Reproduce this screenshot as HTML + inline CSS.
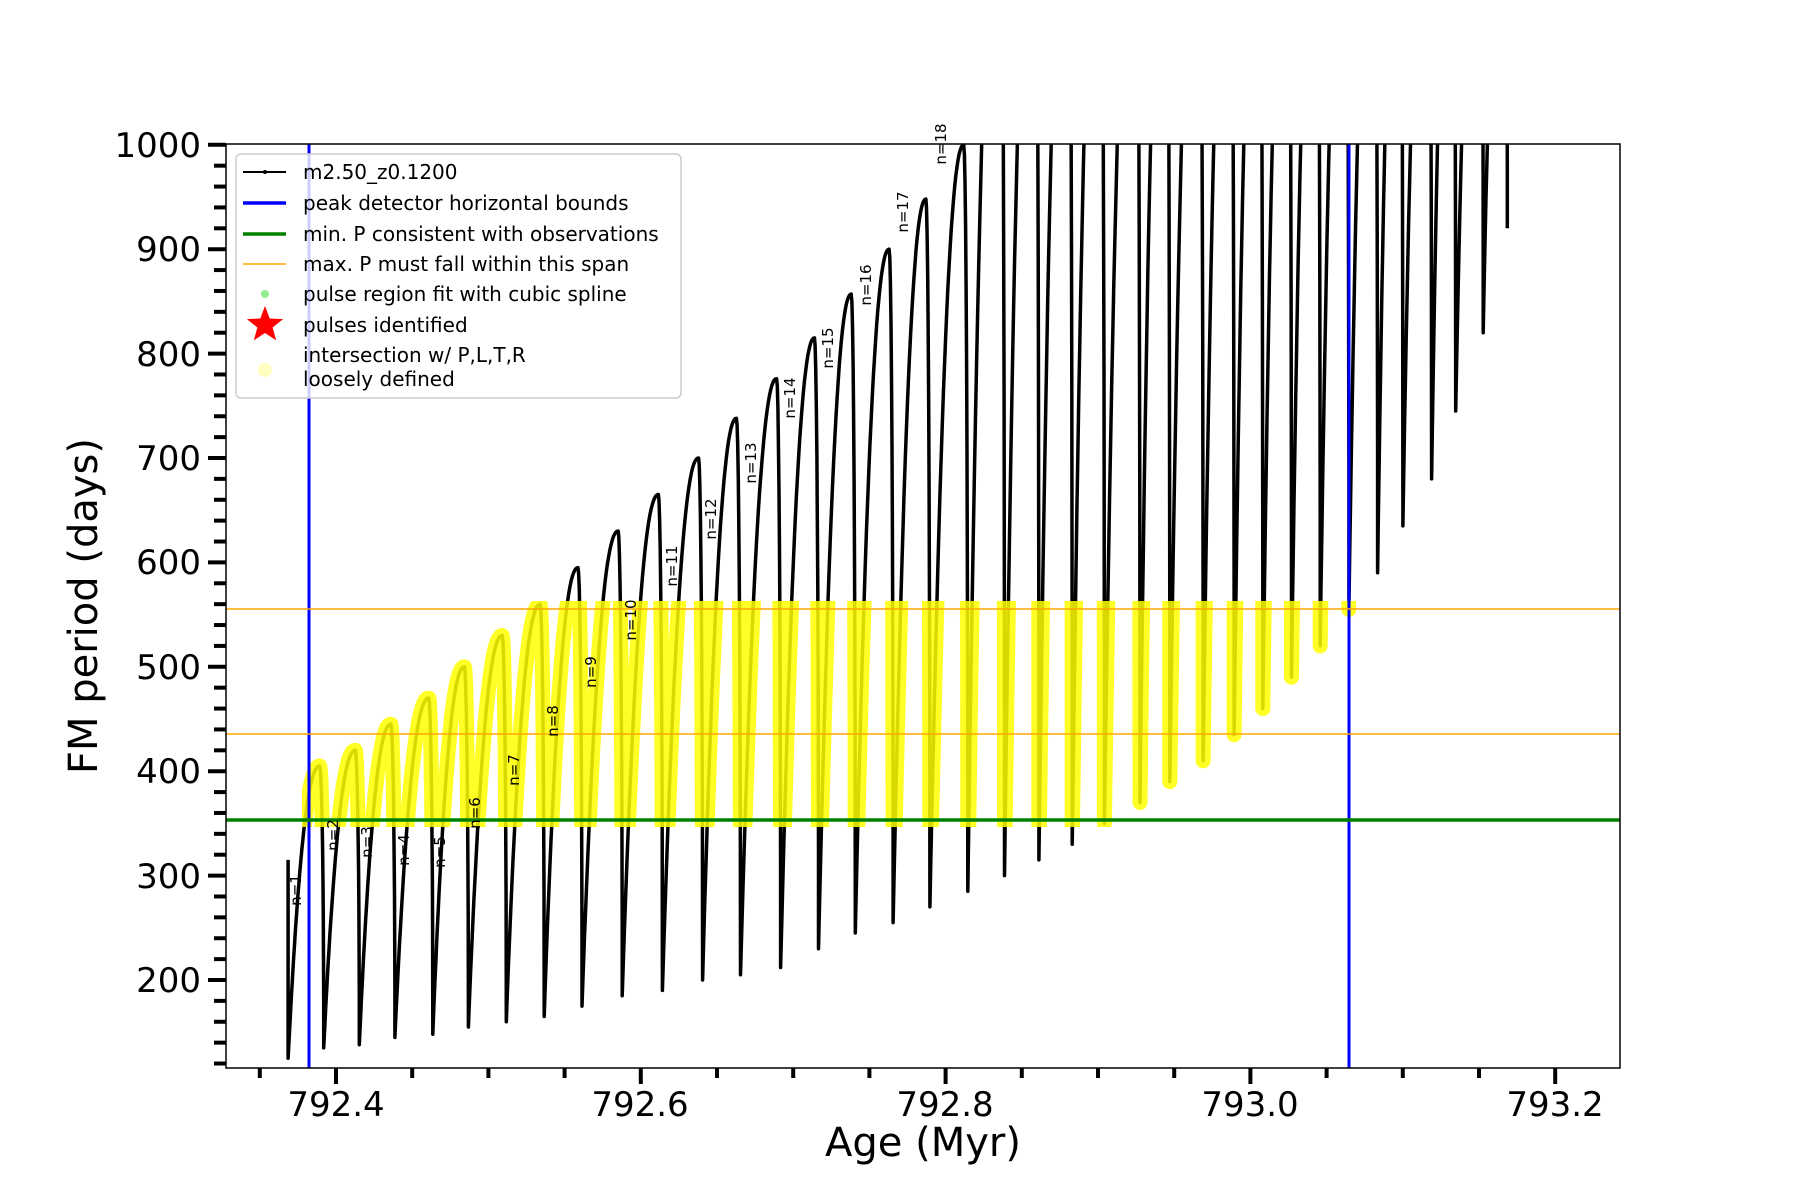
<!DOCTYPE html>
<html><head><meta charset="utf-8"><style>
html,body{margin:0;padding:0;background:#fff;}
svg{display:block;}
text{font-family:"DejaVu Sans","Liberation Sans",sans-serif;fill:#000;}
</style></head><body>
<svg id="s" width="1800" height="1200" viewBox="0 0 1800 1200" xmlns="http://www.w3.org/2000/svg">
<defs>
<clipPath id="ax"><rect x="226" y="144" width="1394" height="924"/></clipPath>
<clipPath id="band"><rect x="302" y="601" width="1054" height="226"/></clipPath>
</defs>
<rect x="0" y="0" width="1800" height="1200" fill="#fff"/>
<g clip-path="url(#ax)">
<path id="black" d="" fill="none" stroke="#000" stroke-width="3.5" stroke-linejoin="round"/>
<path id="yellow" d="" fill="none" stroke="#ffff00" stroke-opacity="0.85" stroke-width="15" stroke-linecap="round" stroke-linejoin="round" clip-path="url(#band)"/>
<line x1="309" y1="144" x2="309" y2="1068" stroke="#0000ff" stroke-width="3"/>
<line x1="1349" y1="144" x2="1349" y2="1068" stroke="#0000ff" stroke-width="3"/>
<line x1="226" y1="820" x2="1620" y2="820" stroke="#008000" stroke-width="3.5"/>
<line x1="226" y1="609" x2="1620" y2="609" stroke="#ffa500" stroke-width="1.5"/>
<line x1="226" y1="734" x2="1620" y2="734" stroke="#ffa500" stroke-width="1.5"/>
</g>
<g font-size="15">
<text transform="translate(301,890) rotate(-90)" text-anchor="middle">n=1</text>
<text transform="translate(338,835) rotate(-90)" text-anchor="middle">n=2</text>
<text transform="translate(372,842) rotate(-90)" text-anchor="middle">n=3</text>
<text transform="translate(409,850) rotate(-90)" text-anchor="middle">n=4</text>
<text transform="translate(445,852) rotate(-90)" text-anchor="middle">n=5</text>
<text transform="translate(480,813) rotate(-90)" text-anchor="middle">n=6</text>
<text transform="translate(519,770) rotate(-90)" text-anchor="middle">n=7</text>
<text transform="translate(558,721) rotate(-90)" text-anchor="middle">n=8</text>
<text transform="translate(596,672) rotate(-90)" text-anchor="middle">n=9</text>
<text transform="translate(636,620) rotate(-90)" text-anchor="middle">n=10</text>
<text transform="translate(677,566) rotate(-90)" text-anchor="middle">n=11</text>
<text transform="translate(716,519) rotate(-90)" text-anchor="middle">n=12</text>
<text transform="translate(756,463) rotate(-90)" text-anchor="middle">n=13</text>
<text transform="translate(795,398) rotate(-90)" text-anchor="middle">n=14</text>
<text transform="translate(833,348) rotate(-90)" text-anchor="middle">n=15</text>
<text transform="translate(871,285) rotate(-90)" text-anchor="middle">n=16</text>
<text transform="translate(908,212) rotate(-90)" text-anchor="middle">n=17</text>
<text transform="translate(946,144) rotate(-90)" text-anchor="middle">n=18</text>
</g>
<rect x="226" y="144" width="1394" height="924" fill="none" stroke="#000" stroke-width="1.5"/>
<g id="ticks" stroke="#000" stroke-width="4"></g>
<g font-size="34" text-anchor="end">
<text x="201" y="157">1000</text>
<text x="201" y="261">900</text>
<text x="201" y="366">800</text>
<text x="201" y="470">700</text>
<text x="201" y="574">600</text>
<text x="201" y="679">500</text>
<text x="201" y="783">400</text>
<text x="201" y="888">300</text>
<text x="201" y="992">200</text>
</g>
<g font-size="34" text-anchor="middle">
<text x="336" y="1116">792.4</text>
<text x="640" y="1116">792.6</text>
<text x="945" y="1116">792.8</text>
<text x="1250" y="1116">793.0</text>
<text x="1555" y="1116">793.2</text>
</g>
<text x="923" y="1156" font-size="40" text-anchor="middle">Age (Myr)</text>
<text transform="translate(97,606) rotate(-90)" font-size="40" text-anchor="middle">FM period (days)</text>
<g>
<rect x="236" y="154" width="445" height="244" rx="5" fill="#fff" fill-opacity="0.8" stroke="#cccccc" stroke-width="1.5"/>
<line x1="243" y1="172" x2="286" y2="172" stroke="#000" stroke-width="2"/>
<circle cx="265" cy="172" r="2" fill="#000"/>
<line x1="243" y1="203" x2="286" y2="203" stroke="#0000ff" stroke-width="3.5"/>
<line x1="243" y1="234" x2="286" y2="234" stroke="#008000" stroke-width="3.5"/>
<line x1="243" y1="264" x2="286" y2="264" stroke="#ffa500" stroke-width="1.5"/>
<circle cx="265" cy="294" r="4" fill="#90ee90"/>
<polygon id="star" fill="#ff0000" points=""/>
<circle cx="265" cy="370" r="7" fill="#ffff99" fill-opacity="0.6"/>
<g font-size="20">
<text x="303" y="179">m2.50_z0.1200</text>
<text x="303" y="210">peak detector horizontal bounds</text>
<text x="303" y="241">min. P consistent with observations</text>
<text x="303" y="271">max. P must fall within this span</text>
<text x="303" y="301">pulse region fit with cubic spline</text>
<text x="303" y="332">pulses identified</text>
<text x="303" y="362">intersection w/ P,L,T,R</text>
<text x="303" y="386">loosely defined</text>
</g>
</g>
</svg>
<script>
(function(){
var S=1.148;
function X(a){return a*S;}
function Y(p){return 980-(p-200)*1.044;}
var D=[[251,315,125],[282,405,135],[313,420,138],[344,445,145],[377,470,148],[408,500,155],[441,530,160],[474,560,165],[507,595,175],[542,630,185],[577,665,190],[612,700,200],[645,738,205],[680,776,212],[713,815,230],[745,857,245],[778,900,255],[810,948,270],[843,1000,285],[875,1300,300],[905,1300,315],[934,1300,330],[962,1300,350],[993,1300,370],[1019,1300,390],[1048,1300,410],[1075,1300,435],[1100,1300,460],[1125,1300,490],[1150,1300,520],[1175,1300,555],[1200,1300,590],[1222,1300,635],[1247,1300,680],[1268,1300,745],[1292,1300,820],[1313,1300,920]];
var d="M"+X(D[0][0]).toFixed(1)+","+Y(D[0][1]).toFixed(1)+" L"+X(D[0][0]).toFixed(1)+","+Y(D[0][2]).toFixed(1);
for(var k=0;k<D.length-1;k++){
 var x0=D[k][0],m0=D[k][2],x1=D[k+1][0],p=D[k+1][1],m1=D[k+1][2];
 var w=Math.min(3.5,(x1-x0)*0.12);var px=x1-w;
 for(var i=1;i<=30;i++){var t=i/30;var P=m0+(p-m0)*(1-Math.pow(1-t,2.2));d+=" L"+X(x0+t*(px-x0)).toFixed(1)+","+Y(P).toFixed(1);}
 for(var i=1;i<=10;i++){var u=i/10;var P=p-(p-m1)*(1-Math.cos(u*Math.PI/2));d+=" L"+X(px+w*Math.sin(u*Math.PI/2)).toFixed(1)+","+Y(P).toFixed(1);}
}
document.getElementById("black").setAttribute("d",d);
document.getElementById("yellow").setAttribute("d",d);
var g=document.getElementById("ticks"),h="";
for(var v=120;v<=1000;v+=20){var y=Y(v);var major=(v%100===0);h+='<line x1="'+(major?208:214)+'" y1="'+y+'" x2="226" y2="'+y+'"/>';}
for(var a=792.35;a<=793.2001;a+=0.05){var x=336+(a-792.4)*1524;var major=Math.abs(Math.round(a*5)-a*5)<1e-6;h+='<line x1="'+x+'" y1="1068" x2="'+x+'" y2="'+(major?1084:1078)+'"/>';}
g.innerHTML=h;
var pts=[],cx=265,cy=325;
for(var i=0;i<10;i++){var r=(i%2===0)?19:8;var ang=-Math.PI/2+i*Math.PI/5;pts.push((cx+r*Math.cos(ang)).toFixed(1)+","+(cy+r*Math.sin(ang)).toFixed(1));}
document.getElementById("star").setAttribute("points",pts.join(" "));
})();
</script>
</body></html>
